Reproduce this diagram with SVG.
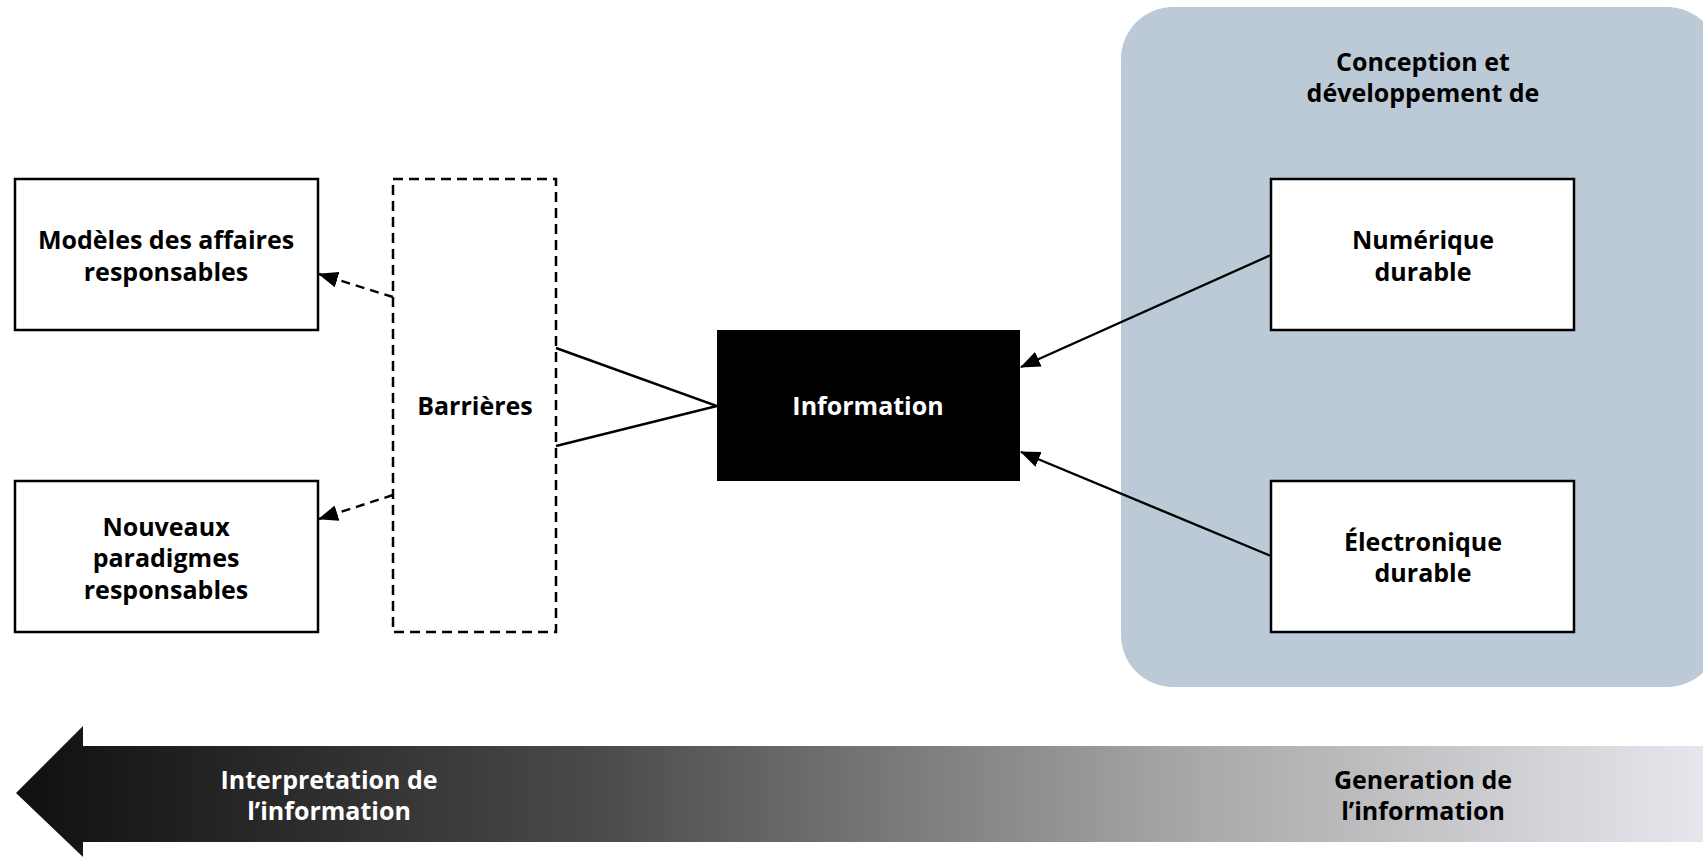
<svg xmlns="http://www.w3.org/2000/svg" width="1703" height="857" viewBox="0 0 1703 857">
  <style>
    .box { fill: #ffffff; stroke: #000000; stroke-width: 2.5; }
    .dash { fill: none; stroke: #000000; stroke-width: 2.5; stroke-dasharray: 10 6; }
    .lbl { font-family: "Open Sans", "Noto Sans", "DejaVu Sans", sans-serif; font-weight: 700; font-size: 25px; text-anchor: middle; fill: #000000; }
    .inv { fill: #ffffff; }
    .link { fill: none; stroke: #000000; stroke-width: 2.4; }
    .link-dash { fill: none; stroke: #000000; stroke-width: 2.4; stroke-dasharray: 9 6; }
  </style>
  <defs>
    <linearGradient id="flow" x1="0" y1="0" x2="1703" y2="0" gradientUnits="userSpaceOnUse">
      <stop offset="0" stop-color="#0e0e0e"/>
      <stop offset="0.35" stop-color="#4a4a4a"/>
      <stop offset="0.7" stop-color="#a8a8a8"/>
      <stop offset="1" stop-color="#e6e7ed"/>
    </linearGradient>
    <marker id="tip" viewBox="0 0 20 16" refX="19" refY="8" markerWidth="20" markerHeight="16" markerUnits="userSpaceOnUse" orient="auto">
      <path d="M0,0 L20,8 L0,16 Z" fill="#000000"/>
    </marker>
  </defs>

  <!-- bottom flow arrow -->
  <g id="flow-arrow">
    <path d="M16,793 L83,726 L83,746 L1703,746 L1703,842 L83,842 L83,857 Z" fill="url(#flow)"/>
    <text class="lbl inv" x="329" y="789">Interpretation de</text>
    <text class="lbl inv" x="329" y="820">l’information</text>
    <text class="lbl" x="1423" y="789">Generation de</text>
    <text class="lbl" x="1423" y="820">l’information</text>
  </g>

  <!-- design & development panel -->
  <g id="panel">
    <rect x="1121" y="7" width="598" height="680" rx="52" ry="52" fill="#bccad8"/>
    <text class="lbl" x="1423" y="71">Conception et</text>
    <text class="lbl" x="1423" y="102">développement de</text>
  </g>

  <g id="modeles">
    <rect class="box" x="15" y="179" width="303" height="151"/>
    <text class="lbl" x="166" y="249">Modèles des affaires</text>
    <text class="lbl" x="166" y="281">responsables</text>
  </g>

  <g id="nouveaux">
    <rect class="box" x="15" y="481" width="303" height="151"/>
    <text class="lbl" x="166" y="536">Nouveaux</text>
    <text class="lbl" x="166" y="567">paradigmes</text>
    <text class="lbl" x="166" y="599">responsables</text>
  </g>

  <g id="barrieres">
    <rect class="dash" x="393" y="179" width="163" height="453"/>
    <text class="lbl" x="475" y="415">Barrières</text>
  </g>

  <g id="information">
    <rect x="717" y="330" width="303" height="151" fill="#000000"/>
    <text class="lbl inv" x="868" y="415">Information</text>
  </g>

  <g id="numerique">
    <rect class="box" x="1271" y="179" width="303" height="151"/>
    <text class="lbl" x="1423" y="249">Numérique</text>
    <text class="lbl" x="1423" y="281">durable</text>
  </g>

  <g id="electronique">
    <rect class="box" x="1271" y="481" width="303" height="151"/>
    <text class="lbl" x="1423" y="551">Électronique</text>
    <text class="lbl" x="1423" y="582">durable</text>
  </g>

  <g id="connectors">
    <line class="link-dash" x1="393" y1="297" x2="319" y2="274" marker-end="url(#tip)"/>
    <line class="link-dash" x1="393" y1="495" x2="319" y2="519" marker-end="url(#tip)"/>
    <polyline class="link" points="556,348 717,406 556,446"/>
    <line class="link" x1="1271" y1="255" x2="1021" y2="367" marker-end="url(#tip)"/>
    <line class="link" x1="1271" y1="556" x2="1021" y2="452" marker-end="url(#tip)"/>
  </g>
</svg>
